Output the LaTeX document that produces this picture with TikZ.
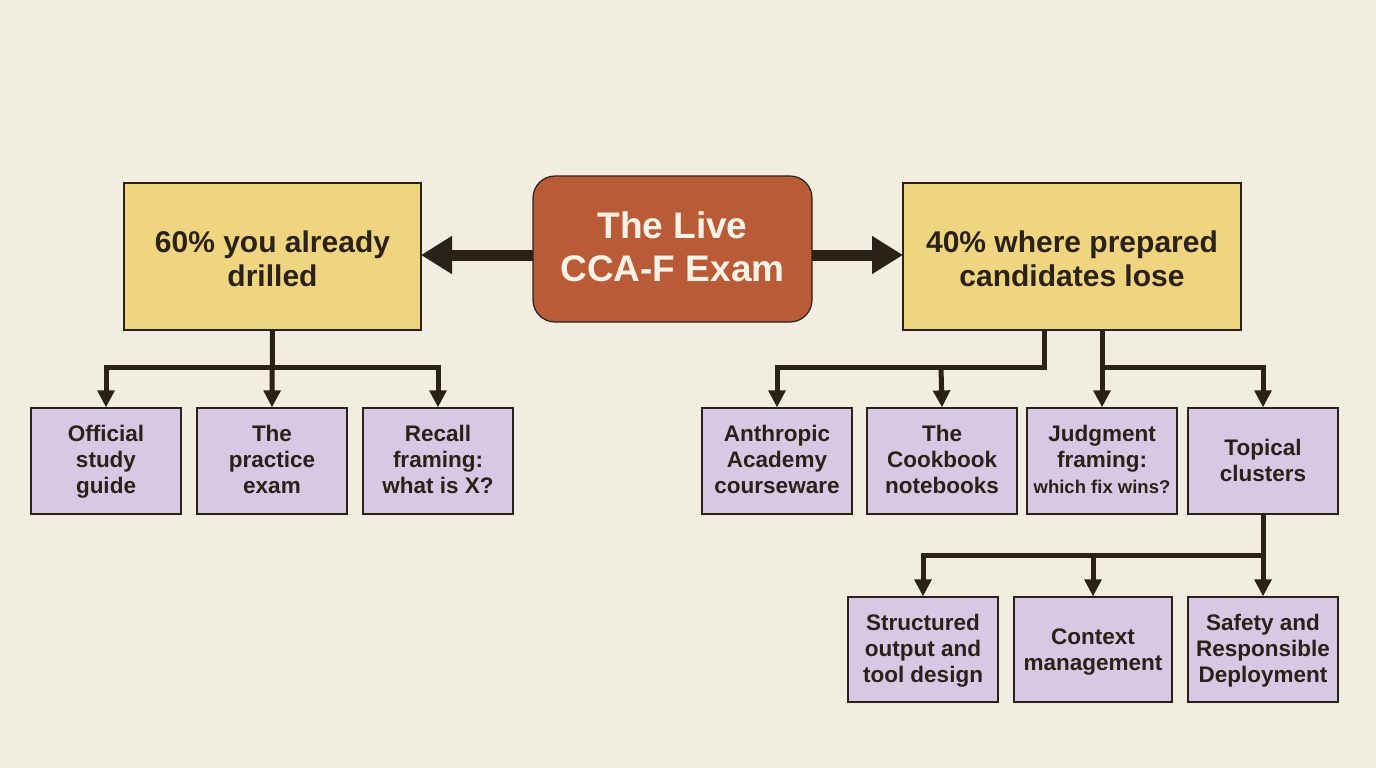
\documentclass[tikz,border=0pt]{standalone}
\usepackage{fontspec}
\setmainfont{Liberation Sans}
\usetikzlibrary{arrows.meta}
\definecolor{bgc}{HTML}{F1EDE0}
\definecolor{ink}{HTML}{2A2118}
\definecolor{rust}{HTML}{BA5B38}
\definecolor{sand}{HTML}{F0D581}
\definecolor{lilac}{HTML}{D9C8E4}
\definecolor{cream}{HTML}{FBF2E6}
\newcommand\hi[1]{\rule{0pt}{#1pt}}
\newcommand\lo[1]{\rule[-#1pt]{0pt}{#1pt}}
\tikzset{
  x=1pt,y=-1pt,
  box/.style={draw=ink,line width=1.2pt,align=center,text=ink,inner sep=0pt,font=\bfseries},
  core/.style={box,fill=rust,rounded corners=22pt,minimum width=279pt,minimum height=146pt,text=cream,font=\bfseries\fontsize{37}{43.5}\selectfont},
  mid/.style={box,fill=sand,minimum height=147pt,font=\bfseries\fontsize{30}{34.5}\selectfont},
  leaf/.style={box,fill=lilac,minimum width=150pt,minimum height=106pt,font=\bfseries\fontsize{22.5}{26}\selectfont},
  low/.style={leaf,minimum height=105pt},
  wire/.style={draw=ink,line width=5pt},
  link/.style={wire,-{Triangle[length=17pt,width=16.5pt]}},
  big/.style={draw=ink,line width=11pt,-{Triangle[length=31pt,width=36pt]}},
}
\begin{document}
\begin{tikzpicture}
\useasboundingbox (0,0) rectangle (1376,768);
\fill[bgc] (0,0) rectangle (1376,768);
\node[core] (exam) at (672.5,249) {\hi{30}The Live\\CCA-F Exam\lo{8.5}};
\node[mid,minimum width=297pt] (drill) at (272.5,256.5) {\hi{31}60\% you already\\drilled\lo{5}};
\node[mid,minimum width=338pt] (lose) at (1072,256.5) {\hi{31}40\% where prepared\\candidates lose\lo{5}};
\node[leaf] (a1) at (106,461) {\hi{18}Official\\study\\guide\lo{6}};
\node[leaf] (a2) at (272,461) {\hi{18}The\\practice\\exam\lo{6}};
\node[leaf] (a3) at (438,461) {\hi{18}Recall\\framing:\\what is X?\lo{6}};
\node[leaf] (b1) at (777,461) {\hi{18}Anthropic\\Academy\\courseware\lo{6}};
\node[leaf] (b2) at (942,461) {\hi{18}The\\Cookbook\\notebooks\lo{6}};
\node[leaf] (b3) at (1102,461) {\hi{18}Judgment\\framing:\\{\fontsize{18.5}{26}\selectfont which fix wins?}\lo{6}};
\node[leaf] (b4) at (1263,461) {\hi{20}Topical\\clusters\lo{6}};
\node[low] (c1) at (923,649.5) {\hi{19}Structured\\output and\\tool design\lo{6}};
\node[low,minimum width=158pt] (c2) at (1093,649.5) {\hi{21}Context\\management\lo{6}};
\node[low] (c3) at (1263,649.5) {\hi{19}Safety and\\Responsible\\Deployment\lo{6}};
\coordinate (ex1) at (533,255);
\coordinate (ex2) at (812,255);
\coordinate (dr) at (421,255);
\coordinate (lo) at (903,255);
\coordinate (busa) at (272,367);
\coordinate (lb1) at (1044,330);
\coordinate (busb) at (1044,367);
\coordinate (busb2) at (941,367);
\coordinate (lb2) at (1102,330);
\coordinate (busd) at (1102,367);
\coordinate (busc) at (1263,555);
\draw[big] (ex1) -- (dr);
\draw[big] (ex2) -- (lo);
\draw[link] (drill.south) -- (a2.north);
\draw[link] (busa) -| (a1.north);
\draw[link] (busa) -| (a3.north);
\draw[link] (lb1) -- (busb) -| (b1.north);
\draw[link] (busb2) -- (b2.north);
\draw[link] (lb2) -- (b3.north);
\draw[link] (busd) -| (b4.north);
\draw[link] (b4.south) -- (c3.north);
\draw[link] (busc) -| (c1.north);
\draw[link] (busc) -| (c2.north);
\end{tikzpicture}
\end{document}
